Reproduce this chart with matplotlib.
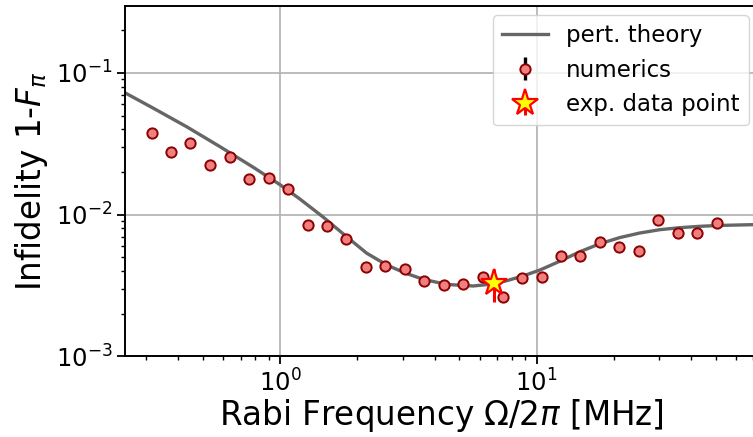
import matplotlib
matplotlib.use("Agg")
import matplotlib.pyplot as plt

# Perturbation-theory curve (Rabi frequency in MHz, infidelity)
theory_freq = [0.250, 0.320, 0.431, 0.582, 0.785, 0.997, 1.193, 1.472, 1.815,
               2.173, 2.600, 3.064, 3.612, 4.457, 5.656, 6.600, 7.638, 8.867,
               10.30, 12.33, 14.75, 17.66, 21.13, 25.29, 30.26, 36.22, 43.35,
               51.88, 73.0]
theory_infid = [0.0719, 0.0564, 0.0418, 0.0302, 0.0216, 0.0163, 0.0129, 0.0096,
                0.00699, 0.00535, 0.00442, 0.00388, 0.00350, 0.00322, 0.00314,
                0.00323, 0.00342, 0.00370, 0.00407, 0.00470, 0.00548, 0.00624,
                0.00690, 0.00743, 0.00784, 0.00810, 0.00828, 0.00840, 0.00852]

# Numerical simulation results
num_freq = [0.315, 0.375, 0.446, 0.532, 0.635, 0.757, 0.901, 1.075, 1.279, 1.521,
            1.809, 2.159, 2.568, 3.064, 3.645, 4.35, 5.17, 6.19, 7.37, 8.79,
            10.46, 12.44, 14.79, 17.66, 21.0, 25.0, 29.8, 35.5, 42.2, 50.4]
num_infid = [0.0375, 0.0277, 0.0319, 0.02254, 0.02554, 0.01777, 0.01816, 0.01526,
             0.00846, 0.00836, 0.00671, 0.00430, 0.00435, 0.00416, 0.00342,
             0.00318, 0.00326, 0.00362, 0.00261, 0.00359, 0.00363, 0.00514,
             0.00514, 0.00645, 0.00589, 0.00557, 0.00922, 0.00746, 0.00743, 0.00874]
num_err = 5e-5

# Experimental data point
exp_freq = [6.82]
exp_infid = [0.00328]
exp_err = [0.00086]

fig = plt.figure(figsize=(7.53, 4.37), dpi=100)
ax = fig.add_axes([125 / 753, 80.6 / 437, 633 / 753, 350.4 / 437])

ax.plot(theory_freq, theory_infid, color="#666666", lw=2.4, zorder=2,
        label="pert. theory")
ax.errorbar(num_freq, num_infid, yerr=num_err, fmt="o", ms=7.4,
            mfc="#f08080", mec="#8b0000", mew=1.4, ecolor="black",
            elinewidth=2.4, zorder=3, label="numerics")
ax.errorbar(exp_freq, exp_infid, yerr=exp_err, fmt="*", ms=20,
            mfc="yellow", mec="red", mew=1.6, ecolor="red",
            elinewidth=2.2, zorder=4, label="exp. data point")

ax.set_xscale("log")
ax.set_yscale("log")
ax.set_xlim(0.248, 73.0)
ax.set_ylim(1e-3, 0.297)

ax.grid(True, which="major", color="#b0b0b0", lw=1.2)
ax.set_axisbelow(True)
for sp in ax.spines.values():
    sp.set_linewidth(1.4)
ax.tick_params(which="major", length=5.5, width=1.3, labelsize=17.5)
ax.tick_params(which="minor", length=3.2, width=1.0)

ax.set_xlabel(r"Rabi Frequency $\Omega/2\pi$ [MHz]", fontsize=23.5, labelpad=1)
ax.set_ylabel(r"Infidelity 1-$F_\pi$", fontsize=23.5)

ax.legend(loc="upper right", fontsize=16.5, borderaxespad=0.4)

fig.savefig("out.png", dpi=100)
